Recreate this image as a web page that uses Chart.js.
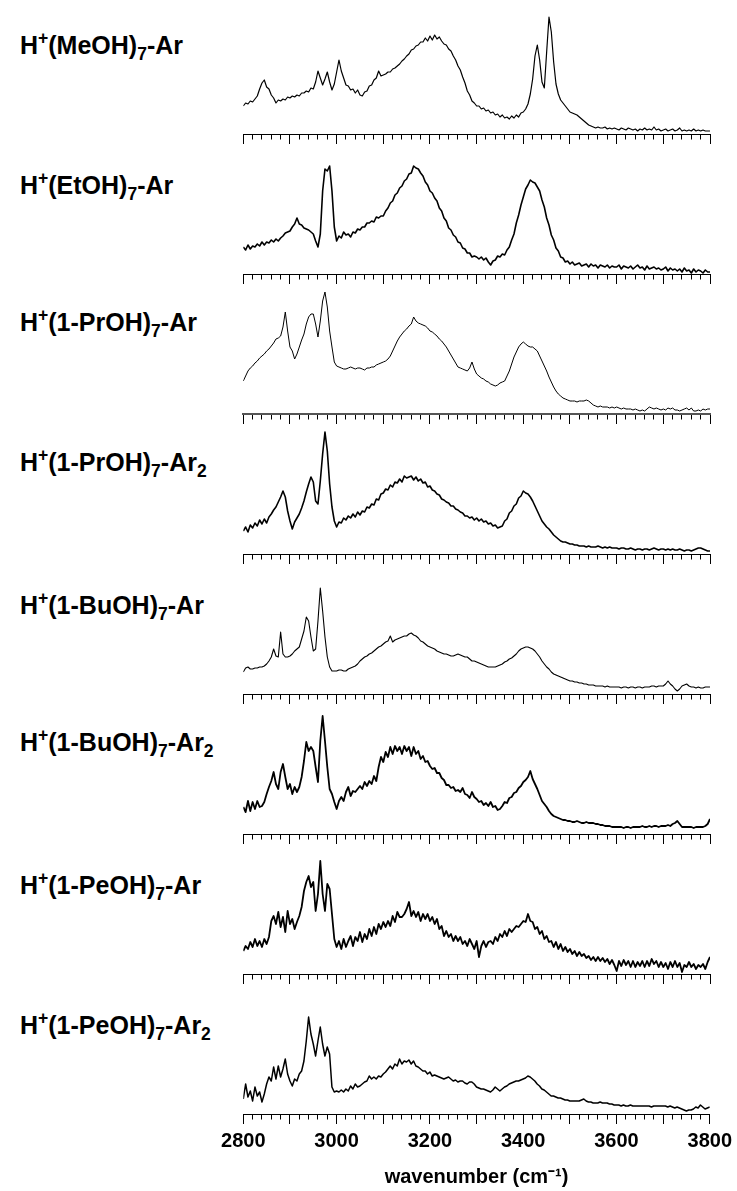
<!DOCTYPE html>
<html>
<head>
<meta charset="utf-8">
<title>IR spectra of H+(ROH)7-Arn</title>
<script src="https://cdn.jsdelivr.net/npm/chart.js@4.4.1/dist/chart.umd.min.js"></script>
<style>
  html, body { margin: 0; padding: 0; background: #fff; }
  #figure { position: relative; width: 737px; height: 1191px; overflow: hidden; }
  #figure canvas { position: absolute; }
  .label {
    position: absolute; left: 20px; color: #000; white-space: nowrap;
    font: bold 25px "Liberation Sans", Arial, sans-serif; line-height: 25px;
  }
  .label sup, .label sub { font-size: 70%; position: relative; vertical-align: baseline; line-height: 0; }
  .label sup { top: -0.6em; }
  .label sub { top: 0.35em; }
</style>
</head>
<body>
<div id="figure"></div>
<script>
'use strict';

// sampling of every trace: 2800 .. 3800 cm-1, one value each 5 cm-1
var wnStart = 2800;
var wnStep  = 5;
var tickLabels = ['2800', '3000', '3200', '3400', '3600', '3800'];

// intensities (arbitrary units, 0 = axis line), rows of 100 cm-1
var meohAr = [
  28,31,30,33,32,35,38,45,51,54,47,45,39,36,31,34,33,35,34,37,
  36,38,37,39,38,41,41,43,42,46,45,52,63,56,49,55,62,52,44,50,
  62,74,63,56,49,48,44,45,41,44,39,38,42,43,48,49,54,56,63,58,
  59,60,62,62,65,66,68,70,73,75,78,80,84,85,88,89,92,92,96,93,
  98,94,99,95,97,93,90,89,85,83,78,74,68,64,57,51,43,39,33,31,
  28,28,25,26,23,24,21,22,19,20,17,19,16,17,15,18,16,19,17,21,
  22,25,30,40,55,78,89,74,52,46,82,117,102,72,50,40,34,31,28,25,
  22,21,20,19,17,15,13,11,9,8,7,6,7,6,6,7,5,6,5,6,
  5,4,6,5,4,6,5,4,5,3,5,4,6,4,5,4,7,4,5,3,
  4,5,3,4,5,3,4,6,3,4,3,4,3,5,3,4,3,4,3,3,
  3
];
var etohAr = [
  27,24,29,25,28,27,30,28,32,29,32,31,34,32,35,33,36,38,41,42,
  43,47,50,56,50,49,46,45,44,42,40,33,27,40,83,105,103,108,83,47,
  33,38,36,42,39,40,37,42,41,45,44,47,47,51,51,53,52,57,56,58,
  58,63,66,71,73,79,81,86,88,93,95,100,101,108,106,105,101,98,92,89,
  83,81,76,73,66,63,56,53,46,44,39,37,32,31,26,25,21,21,17,18,
  17,15,17,14,16,12,9,13,14,18,17,20,19,24,27,34,40,51,59,69,
  77,85,89,94,92,91,87,83,74,67,56,49,39,34,26,23,17,16,12,13,
  10,12,9,10,11,8,9,10,7,10,8,9,6,9,8,7,9,6,8,7,
  7,9,5,8,7,6,8,5,7,9,6,7,4,8,5,6,7,5,6,4,
  5,7,3,6,4,5,3,5,2,6,3,4,1,5,2,4,3,1,4,2,
  2
];
var prohAr = [
  33,38,43,46,48,51,53,56,58,60,63,65,68,71,75,76,78,87,102,83,
  67,63,55,60,67,74,80,90,97,100,100,90,77,93,113,122,107,83,67,52,
  48,47,46,45,45,46,47,46,45,46,46,45,44,46,46,47,47,49,50,51,
  52,53,55,58,63,68,73,77,80,83,85,88,90,97,93,91,90,89,88,86,
  83,82,80,78,75,73,70,67,63,59,55,51,47,46,45,44,43,46,52,45,
  40,38,36,35,33,32,30,29,28,29,31,32,33,38,43,50,57,62,67,70,
  72,70,68,67,67,65,63,58,53,48,43,37,32,27,23,20,18,16,15,14,
  13,13,13,12,13,13,13,14,13,11,9,8,7,8,7,7,7,6,7,6,
  7,6,5,6,5,5,5,4,5,4,3,4,3,5,7,6,5,6,5,4,
  5,4,6,5,6,4,4,3,4,5,6,4,6,3,3,4,3,5,4,5,
  5
];
var prohAr2 = [
  23,27,22,29,26,31,28,34,30,35,31,37,40,44,47,52,57,63,57,43,
  33,25,32,36,40,46,53,62,70,77,72,53,50,73,100,122,103,70,47,33,
  27,32,31,36,34,38,36,40,37,42,39,43,42,47,46,50,49,55,54,60,
  61,65,64,69,67,72,71,75,72,78,76,77,78,74,77,73,75,71,72,67,
  68,64,63,60,59,55,54,52,51,48,48,45,44,42,41,38,38,36,37,34,
  36,33,35,32,33,30,31,28,29,26,27,28,33,35,41,43,48,50,56,58,
  63,61,60,57,53,48,43,38,33,30,27,25,22,19,17,15,13,12,12,11,
  10,10,9,9,8,8,8,7,8,7,7,7,8,7,6,7,6,7,6,6,
  6,5,6,6,5,5,6,5,4,5,5,4,5,5,4,5,6,5,4,5,
  5,4,5,4,5,4,4,5,4,3,4,4,3,4,5,6,6,5,4,3,
  3
];
var buohAr = [
  22,26,27,25,25,26,26,27,27,28,30,33,37,45,38,37,62,40,37,37,
  38,40,43,45,47,55,63,77,73,57,43,45,73,106,83,57,37,27,23,23,
  23,24,24,23,23,25,26,27,28,30,33,35,37,38,40,41,43,45,47,48,
  50,52,53,58,52,54,55,56,57,58,58,60,61,59,58,56,53,52,50,48,
  47,46,45,43,42,41,40,40,39,38,38,39,40,39,38,37,37,35,33,33,
  32,31,30,29,28,27,27,27,27,28,29,30,32,33,35,36,38,40,43,45,
  46,47,47,46,45,43,40,37,33,30,27,25,22,20,19,18,17,16,15,14,
  13,13,12,12,11,11,10,10,9,9,9,8,8,8,8,7,8,7,7,7,
  7,7,6,7,7,6,7,7,6,7,7,6,7,7,7,8,8,7,8,8,
  8,10,13,10,8,5,3,5,8,9,10,8,7,7,6,7,6,6,7,7,
  7
];
var buohAr2 = [
  27,22,33,23,32,25,33,27,28,32,40,47,53,62,50,45,62,70,57,45,
  50,40,47,42,47,57,73,92,83,87,83,67,52,93,118,93,67,45,40,32,
  25,33,37,33,42,47,38,43,42,45,48,45,52,48,53,50,58,53,67,77,
  72,82,77,87,80,88,83,87,80,88,83,87,78,87,80,83,75,78,72,73,
  68,65,66,61,61,56,54,49,49,46,47,43,44,42,46,40,39,36,42,37,
  35,32,33,29,31,28,32,27,28,24,25,28,32,31,36,37,41,42,46,48,
  52,54,57,63,55,50,45,39,33,30,27,23,20,18,17,16,15,14,14,13,
  13,12,12,13,12,11,11,12,11,11,11,10,10,9,9,8,8,8,7,7,
  7,7,7,6,7,7,6,7,7,7,7,8,7,7,8,7,8,8,7,8,
  8,8,9,8,10,11,13,10,7,7,7,7,7,6,7,7,7,7,8,10,
  15
];
var peohAr = [
  23,28,25,32,27,35,28,33,27,35,30,37,53,58,50,62,47,57,42,63,
  50,55,45,52,58,67,83,92,98,87,92,63,80,113,80,63,90,85,60,35,
  27,33,25,35,27,33,38,28,37,33,42,32,40,35,45,38,47,40,50,45,
  52,47,53,48,58,52,62,57,57,60,65,72,58,63,57,62,53,60,55,60,
  53,57,50,55,45,48,38,43,37,40,33,38,33,37,30,33,28,35,30,25,
  33,17,28,33,27,32,33,30,37,33,40,37,43,38,45,42,45,48,47,50,
  53,52,60,53,52,45,47,40,43,35,38,32,33,27,32,25,30,23,27,22,
  25,20,23,18,22,18,20,16,18,14,17,13,17,13,16,12,15,10,14,9,
  3,13,8,14,9,13,7,13,7,12,8,13,7,13,8,15,10,13,7,12,
  7,11,5,12,7,13,7,11,2,9,7,12,7,10,5,9,7,10,5,12,
  17
];
var peohAr2 = [
  15,30,17,23,13,27,18,22,12,20,30,37,33,47,35,48,37,45,55,40,
  33,28,35,33,40,43,53,73,97,80,70,58,73,87,70,58,67,60,27,22,
  23,22,24,22,25,23,28,25,30,27,28,30,32,33,38,35,37,35,38,37,
  40,42,45,48,45,50,48,55,50,53,52,54,50,53,48,47,45,43,43,40,
  42,38,39,38,37,36,35,36,37,35,33,34,32,33,33,31,30,32,32,30,
  27,26,25,25,24,23,22,24,27,25,23,25,27,28,30,31,32,33,33,34,
  35,36,38,37,35,33,30,28,25,24,22,20,18,18,17,16,16,15,14,14,
  13,13,13,13,13,14,15,13,12,12,11,11,11,12,11,11,11,10,10,9,
  9,9,8,9,8,8,9,8,8,8,8,8,8,8,8,7,8,8,8,8,
  8,8,7,8,7,6,7,6,5,4,3,4,4,5,7,6,9,7,5,6,
  7
];

// -----------------
// - PANEL SETUP   -
// -----------------
var panels = [
  { label: 'H<sup>+</sup>(MeOH)<sub>7</sub>-Ar',      values: meohAr,  width: 1.2, labelY: 45 },
  { label: 'H<sup>+</sup>(EtOH)<sub>7</sub>-Ar',      values: etohAr,  width: 1.6, labelY: 185 },
  { label: 'H<sup>+</sup>(1-PrOH)<sub>7</sub>-Ar',    values: prohAr,  width: 1.0, labelY: 322 },
  { label: 'H<sup>+</sup>(1-PrOH)<sub>7</sub>-Ar<sub>2</sub>', values: prohAr2, width: 1.6, labelY: 462 },
  { label: 'H<sup>+</sup>(1-BuOH)<sub>7</sub>-Ar',    values: buohAr,  width: 1.1, labelY: 605 },
  { label: 'H<sup>+</sup>(1-BuOH)<sub>7</sub>-Ar<sub>2</sub>', values: buohAr2, width: 1.8, labelY: 742 },
  { label: 'H<sup>+</sup>(1-PeOH)<sub>7</sub>-Ar',    values: peohAr,  width: 1.8, labelY: 885 },
  { label: 'H<sup>+</sup>(1-PeOH)<sub>7</sub>-Ar<sub>2</sub>', values: peohAr2, width: 1.5, labelY: 1025 }
];

var fontFamily = '"Liberation Sans", Arial, sans-serif';
var figure = document.getElementById('figure');

function toPoints(values) {
  return values.map(function (v, i) {
    return { x: wnStart + i * wnStep, y: v };
  });
}

panels.forEach(function (p, i) {
  var isLast = i === panels.length - 1;
  var axisY  = 134 + 140 * i;
  var top    = axisY - 128;
  var height = isLast ? 1191 - top : 142;

  var label = document.createElement('div');
  label.className = 'label';
  label.innerHTML = p.label;
  label.style.top = (p.labelY - 12) + 'px';
  figure.appendChild(label);

  var canvas = document.createElement('canvas');
  canvas.width = 537;
  canvas.height = height;
  canvas.style.left = '200px';
  canvas.style.top = top + 'px';
  figure.appendChild(canvas);

  new Chart(canvas, {
    type: 'line',
    data: {
      datasets: [{
        data           : toPoints(p.values),
        borderColor    : '#000',
        borderWidth    : p.width,
        borderJoinStyle: 'round',
        pointRadius    : 0,
        tension        : 0
      }]
    },
    options: {
      responsive      : false,
      animation       : false,
      devicePixelRatio: 1,
      events          : [],
      layout: { padding: { left: 43.3, right: 27, top: 0, bottom: 0 } },
      plugins: { legend: { display: false }, tooltip: { enabled: false } },
      scales: {
        x: {
          type: 'linear',
          position: 'bottom',
          min: 2800,
          max: 3800,
          afterFit: function (scale) { scale.height = isLast ? 77 : 14; },
          border: { display: true, color: i === 2 ? '#555' : '#000', width: i === 2 ? 2 : 1 },
          grid: {
            drawOnChartArea: false,
            drawTicks: true,
            tickLength: 10,
            tickColor: '#000',
            tickWidth: 1,
            // minor ticks every 20 cm-1 are drawn short, majors every 100 full length
            tickBorderDash: function (ctx) {
              return ctx.tick && ctx.tick.value % 100 === 0 ? [] : [4.5, 30];
            }
          },
          ticks: {
            display: isLast,
            stepSize: 20,
            maxTicksLimit: 60,
            autoSkip: false,
            maxRotation: 0,
            minRotation: 0,
            padding: 5,
            color: '#000',
            font: { family: fontFamily, size: 20, weight: 'bold' },
            callback: function (v) {
              return tickLabels.indexOf(String(v)) >= 0 ? String(v) : '';
            }
          },
          title: {
            display: isLast,
            text: 'wavenumber (cm\u207B\u00B9)',
            color: '#000',
            font: { family: fontFamily, size: 20, weight: 'bold' },
            padding: { top: 0, bottom: 2 }
          }
        },
        y: { display: false, min: 0, max: 128 }
      }
    }
  });
});
</script>
</body>
</html>
